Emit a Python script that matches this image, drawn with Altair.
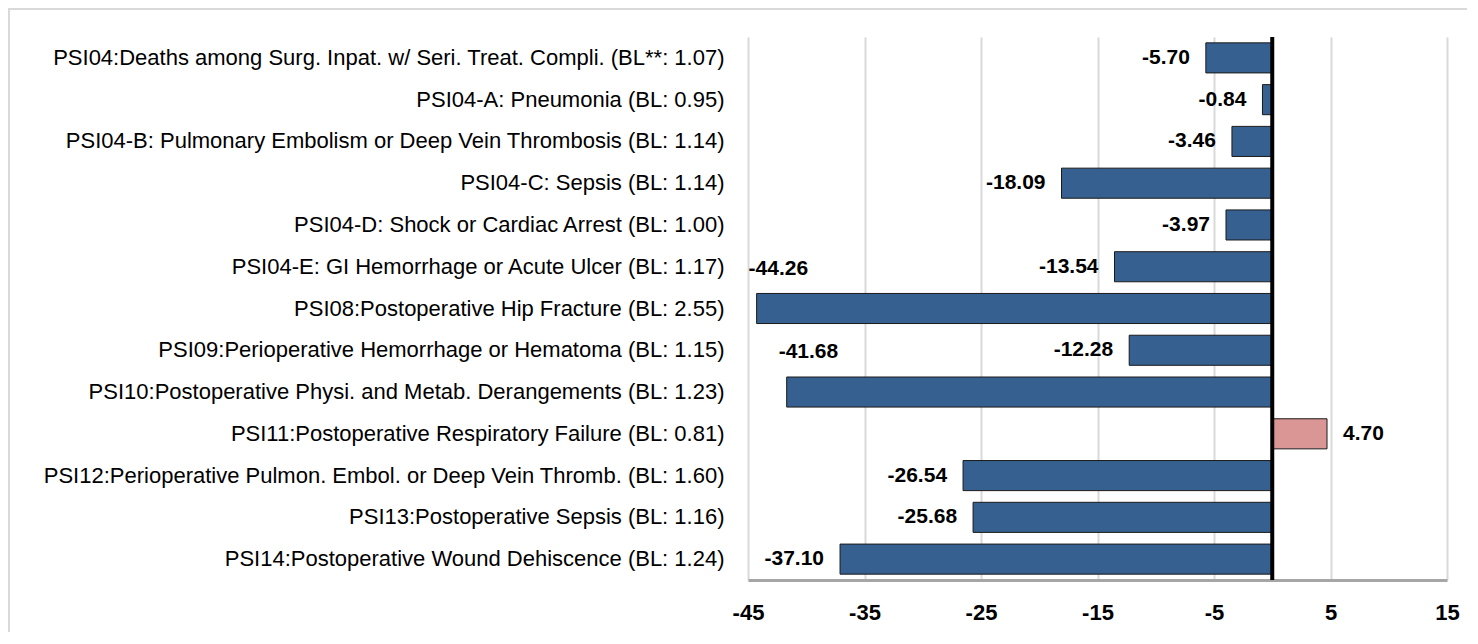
import altair as alt
import pandas as pd

categories = [
    "PSI04:Deaths among Surg. Inpat. w/ Seri. Treat. Compli. (BL**: 1.07)",
    "PSI04-A: Pneumonia (BL: 0.95)",
    "PSI04-B: Pulmonary Embolism or Deep Vein Thrombosis (BL: 1.14)",
    "PSI04-C: Sepsis (BL: 1.14)",
    "PSI04-D: Shock or Cardiac Arrest (BL: 1.00)",
    "PSI04-E: GI Hemorrhage or Acute Ulcer (BL: 1.17)",
    "PSI08:Postoperative Hip Fracture (BL: 2.55)",
    "PSI09:Perioperative Hemorrhage or Hematoma (BL: 1.15)",
    "PSI10:Postoperative Physi. and Metab. Derangements (BL: 1.23)",
    "PSI11:Postoperative Respiratory Failure (BL: 0.81)",
    "PSI12:Perioperative Pulmon. Embol. or Deep Vein Thromb. (BL: 1.60)",
    "PSI13:Postoperative Sepsis (BL: 1.16)",
    "PSI14:Postoperative Wound Dehiscence (BL: 1.24)",
]
values = [-5.70, -0.84, -3.46, -18.09, -3.97, -13.54, -44.26, -12.28, -41.68, 4.70, -26.54, -25.68, -37.10]
tick_values = [-45, -35, -25, -15, -5, 5, 15]

df = pd.DataFrame({"cat": categories, "val": values})
df["sign"] = ["pos" if v > 0 else "neg" for v in values]

FONT = "Liberation Sans"
W, H = 699, 543

y_enc = alt.Y("cat:N", sort=categories, title=None,
              scale=alt.Scale(paddingInner=0.28, paddingOuter=0.14),
              axis=alt.Axis(labelFont=FONT, labelFontSize=22, labelColor="#000000",
                            labelLimit=0, labelPadding=24, ticks=False, domain=False,
                            grid=False))
x_scale = alt.Scale(domain=[-45, 15], nice=False, zero=False)

base = alt.Chart(df).transform_calculate(
    lbl="replace(format(datum.val, '.2f'), '\u2212', '-')")

bars = base.mark_bar(stroke="#1a1a1a", strokeWidth=1).encode(
    x=alt.X("val:Q", scale=x_scale, title=None,
            axis=alt.Axis(values=tick_values, labelExpr="toString(datum.value)",
                          labelFont=FONT, labelFontSize=22, labelFlush=False,
                          labelFontWeight="bold", labelColor="#000000", labelPadding=22,
                          ticks=False, domainColor="#a6a6a6", domainWidth=3,
                          gridColor="#d9d9d9", gridWidth=2)),
    x2=alt.datum(0),
    y=y_enc,
    color=alt.Color("sign:N", scale=alt.Scale(domain=["neg", "pos"], range=["#36608f", "#d99694"]),
                    legend=None),
)

txt_common = dict(font=FONT, fontSize=21, fontWeight="bold", color="#000000", baseline="middle")

lab_neg = base.transform_filter("datum.val < 0 && datum.val > -40").mark_text(
    align="right", dx=-16, **txt_common).encode(
    x="val:Q", y=alt.Y("cat:N", sort=categories), text="lbl:N")

lab_pos = base.transform_filter("datum.val > 0").mark_text(
    align="left", dx=16, **txt_common).encode(
    x="val:Q", y=alt.Y("cat:N", sort=categories), text="lbl:N")

lab_big = base.transform_filter("datum.val <= -40").mark_text(
    align="left", dx=-8, dy=-40, **txt_common).encode(
    x="val:Q", y=alt.Y("cat:N", sort=categories), text="lbl:N")

zero_rule = alt.Chart(pd.DataFrame({"z": [0]})).mark_rule(color="#000000", strokeWidth=4).encode(
    x=alt.X("z:Q", scale=x_scale))

frame_top = alt.Chart(pd.DataFrame({"a": [0]})).mark_rule(color="#d9d9d9", strokeWidth=2).encode(
    x=alt.value(-740), x2=alt.value(W + 40), y=alt.value(-28))
frame_left = alt.Chart(pd.DataFrame({"a": [0]})).mark_rule(color="#d9d9d9", strokeWidth=2).encode(
    x=alt.value(-739), y=alt.value(-28), y2=alt.value(H + 60))

chart = alt.layer(frame_top, frame_left, bars, zero_rule, lab_neg, lab_pos, lab_big).properties(
    width=W, height=H,
    autosize=alt.AutoSizeParams(type="none"),
    padding={"left": 740, "top": 29, "right": 20, "bottom": 52},
    background="white",
).configure_view(stroke=None)

chart.save("out.html", embed_options={"renderer": "svg", "actions": False})
